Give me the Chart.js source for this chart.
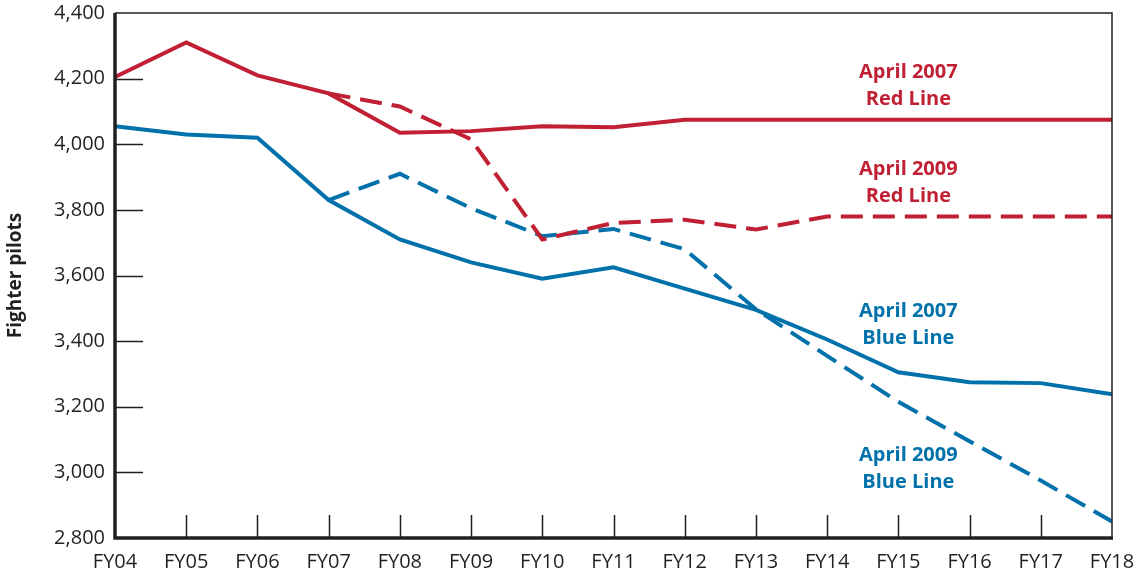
<!DOCTYPE html>
<html>
<head>
<meta charset="utf-8">
<script src="https://cdn.jsdelivr.net/npm/chart.js@4.4.1/dist/chart.umd.min.js"></script>
<style>
  html, body { margin: 0; padding: 0; background: #fff; }
  #wrap { width: 1143px; height: 577px; }
</style>
</head>
<body>
<div id="wrap"><canvas id="chart" width="1143" height="577"></canvas></div>
<script>
const years = ["FY04","FY05","FY06","FY07","FY08","FY09","FY10","FY11","FY12","FY13","FY14","FY15","FY16","FY17","FY18"];

// fighter pilots
const red2007  = [4205, 4310, 4210, 4155, 4035, 4040, 4055, 4052, 4075, 4075, 4075, 4075, 4075, 4075, 4075];
const red2009  = [null, null, null, 4155, 4115, 4015, 3710, 3760, 3770, 3740, 3780, 3780, 3780, 3780, 3780];
const blue2007 = [4055, 4030, 4020, 3830, 3710, 3640, 3590, 3625, 3560, 3495, 3405, 3305, 3275, 3272, 3238];
const blue2009 = [null, null, null, 3830, 3910, 3805, 3720, 3742, 3680, 3497, 3355, 3215, 3095, 2975, 2850];

const yTicks = [2800, 3000, 3200, 3400, 3600, 3800, 4000, 4200, 4400];

const RED = "#c11f33";
const BLUE = "#0071aa";
const INK = "#231f20";

// label anchors: category position, value of first line
const lineLabels = [
  { lines: ["April 2007", "Red Line"],  at: 11.14, value: 4218, color: RED },
  { lines: ["April 2009", "Red Line"],  at: 11.14, value: 3924, color: RED },
  { lines: ["April 2007", "Blue Line"], at: 11.14, value: 3491, color: BLUE },
  { lines: ["April 2009", "Blue Line"], at: 11.14, value: 3052, color: BLUE }
];

const frame = {
  id: "frame",
  afterDatasetsDraw(chart) {
    const { ctx, chartArea: a, scales: { x, y } } = chart;
    ctx.save();
    ctx.strokeStyle = INK;
    // thin top / right
    ctx.lineWidth = 1.5;
    ctx.beginPath();
    ctx.moveTo(a.left, a.top);
    ctx.lineTo(a.right, a.top);
    ctx.lineTo(a.right, a.bottom);
    ctx.stroke();
    // inner tick marks
    ctx.lineWidth = 1.5;
    ctx.beginPath();
    yTicks.forEach(v => {
      if (v === 2800 || v === 4400) return;
      const py = Math.round(y.getPixelForValue(v)) + 0.5;
      ctx.moveTo(a.left, py);
      ctx.lineTo(a.left + 28, py);
    });
    years.forEach((_, i) => {
      if (i === 0 || i === years.length - 1) return;
      const px = Math.round(x.getPixelForValue(i)) + 0.5;
      ctx.moveTo(px, a.bottom);
      ctx.lineTo(px, a.bottom - 23);
    });
    ctx.stroke();
    // thick left / bottom
    ctx.lineWidth = 3.5;
    ctx.beginPath();
    ctx.moveTo(a.left, a.top);
    ctx.lineTo(a.left, a.bottom);
    ctx.lineTo(a.right + 1, a.bottom);
    ctx.stroke();

    // series labels
    ctx.font = "bold 20px 'Open Sans'";
    ctx.textAlign = "center";
    ctx.textBaseline = "middle";
    lineLabels.forEach(l => {
      ctx.fillStyle = l.color;
      const px = x.getPixelForValue(l.at);
      const py = y.getPixelForValue(l.value);
      l.lines.forEach((t, k) => ctx.fillText(t, px, py + k * 27));
    });
    ctx.restore();
  }
};

const lineStyle = (color, dashed) => ({
  borderColor: color,
  backgroundColor: color,
  borderWidth: 4,
  borderDash: dashed ? [22, 10] : [],
  pointRadius: 0,
  tension: 0,
  fill: false,
  spanGaps: false
});

new Chart(document.getElementById("chart"), {
  type: "line",
  data: {
    labels: years,
    datasets: [
      { label: "April 2007 Red Line", data: red2007, ...lineStyle(RED, false) },
      { label: "April 2009 Red Line", data: red2009, ...lineStyle(RED, true) },
      { label: "April 2007 Blue Line", data: blue2007, ...lineStyle(BLUE, false) },
      { label: "April 2009 Blue Line", data: blue2009, ...lineStyle(BLUE, true) }
    ]
  },
  options: {
    responsive: false,
    animation: false,
    layout: { padding: { top: 13, right: 31, left: 0, bottom: 0 } },
    plugins: { legend: { display: false }, tooltip: { enabled: false } },
    scales: {
      x: {
        offset: false,
        grid: { display: false, drawTicks: false },
        border: { display: false },
        ticks: { color: INK, font: { family: "'Open Sans'", size: 20 }, padding: 12, maxRotation: 0, autoSkip: false },
        afterFit: s => { s.height = 39; s.paddingLeft = 0; s.paddingRight = 0; }
      },
      y: {
        min: 2800,
        max: 4400,
        grid: { display: false, drawTicks: false },
        border: { display: false },
        afterBuildTicks: s => { s.ticks = yTicks.map(v => ({ value: v })); },
        ticks: {
          color: INK,
          font: { family: "'Open Sans'", size: 20 },
          padding: 10,
          callback: v => v.toLocaleString("en-US")
        },
        title: {
          display: true,
          text: "Fighter pilots",
          color: INK,
          font: { family: "'Open Sans'", size: 19, weight: "bold" },
          padding: { top: 4, bottom: 0 }
        },
        afterFit: s => { s.width = 115; s.paddingTop = 0; s.paddingBottom = 0; }
      }
    }
  },
  plugins: [frame]
});
</script>
</body>
</html>
